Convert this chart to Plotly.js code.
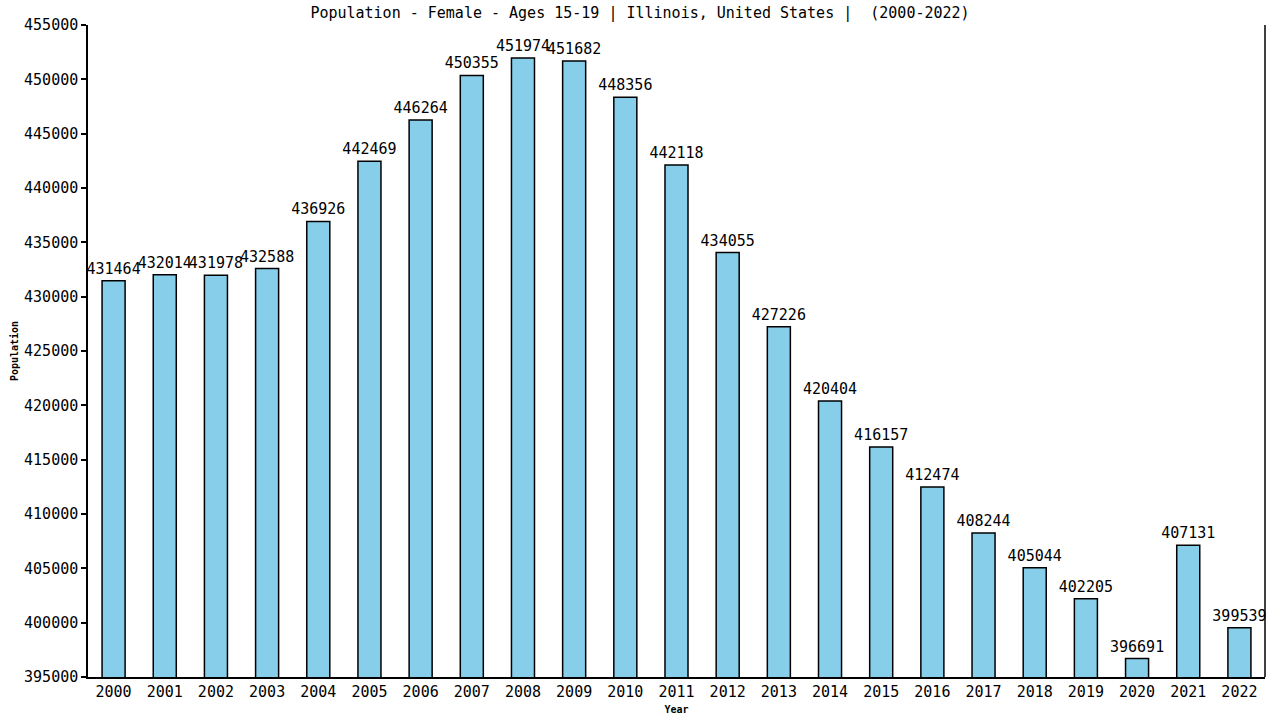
<!DOCTYPE html>
<html>
<head>
<meta charset="utf-8">
<script src="https://cdn.plot.ly/plotly-3.0.1.min.js"></script>
<style>
  body { margin: 0; background: #fff; }
  #chart { width: 1280px; height: 720px; }
</style>
</head>
<body>
<div id="chart"></div>
<script>
var years = ["2000", "2001", "2002", "2003", "2004", "2005", "2006", "2007", "2008", "2009", "2010", "2011",
  "2012", "2013", "2014", "2015", "2016", "2017", "2018", "2019", "2020", "2021", "2022"];
var population = [431464, 432014, 431978, 432588, 436926, 442469, 446264, 450355, 451974, 451682, 448356, 442118,
  434055, 427226, 420404, 416157, 412474, 408244, 405044, 402205, 396691, 407131, 399539];
var yTicks = [395000, 400000, 405000, 410000, 415000, 420000, 425000, 430000, 435000, 440000, 445000, 450000, 455000];

var mono = "DejaVu Sans Mono, monospace";

var bars = {
  x: years,
  y: population,
  type: "bar",
  width: 0.45,
  marker: { color: "#87ceeb", line: { color: "#000", width: 1.5 } },
  text: population.map(String),
  textposition: "outside",
  constraintext: "none",
  cliponaxis: false,
  outsidetextfont: { family: mono, size: 15, color: "#000" },
  hoverinfo: "x+y"
};

var layout = {
  width: 1280,
  height: 720,
  margin: { l: 88, r: 15, t: 25, b: 43 },
  paper_bgcolor: "#fff",
  plot_bgcolor: "#fff",
  showlegend: false,
  title: {
    text: "Population - Female - Ages 15-19 | Illinois, United States |  (2000-2022)",
    font: { family: mono, size: 15, color: "#000" },
    x: 0.5, xanchor: "center", y: 0.99, yanchor: "top"
  },
  xaxis: {
    type: "category",
    title: { text: "<b>Year</b>", font: { family: mono, size: 10, color: "#000" }, standoff: 6 },
    tickfont: { family: mono, size: 15, color: "#000" },
    showline: true, linecolor: "#000", linewidth: 1.5, mirror: false,
    ticks: "", showgrid: false, zeroline: false
  },
  yaxis: {
    title: { text: "<b>Population</b>", font: { family: mono, size: 10, color: "#000" }, standoff: 4 },
    range: [395000, 455000],
    tickvals: yTicks,
    ticktext: yTicks.map(String),
    tickfont: { family: mono, size: 15, color: "#000" },
    showline: true, linecolor: "#000", linewidth: 1.5, mirror: false,
    ticks: "outside", ticklen: 5, tickcolor: "#000", tickwidth: 1.5,
    showgrid: false, zeroline: false
  },
  shapes: [
    { type: "line", xref: "paper", yref: "paper", x0: 1, x1: 1, y0: 0, y1: 1, line: { color: "#000", width: 1.5 } }
  ]
};

Plotly.newPlot("chart", [bars], layout, { displayModeBar: false, responsive: false });
</script>
</body>
</html>
